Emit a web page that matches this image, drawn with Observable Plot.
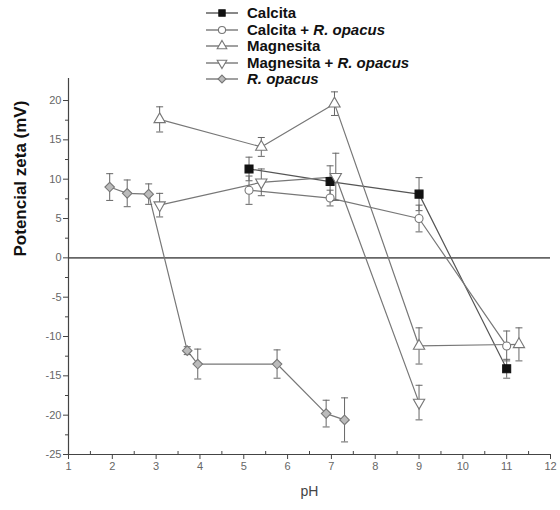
<!DOCTYPE html>
<html><head><meta charset="utf-8">
<script src="https://cdn.jsdelivr.net/npm/d3@7"></script>
<script src="https://cdn.jsdelivr.net/npm/@observablehq/plot@0.6"></script>
<style>
body{margin:0;background:#fff;}
#wrap{position:relative;width:560px;height:510px;}
#legend{position:absolute;left:205px;top:5px;font-family:"Liberation Sans",Arial,sans-serif;font-weight:bold;font-size:15px;color:#111;line-height:16.5px;}
#legend .row{display:flex;align-items:center;height:16.5px;}
#legend svg{margin-right:8px;}
</style></head><body><div id="wrap"><div id="legend"></div></div>
<script>
// ---- data ----
const seriesNames = ["Calcita", "Calcita + R. opacus", "Magnesita", "Magnesita + R. opacus", "R. opacus"];

const calcitaPH   = [5.12, 6.97, 9.0, 11.0];
const calcitaZeta = [11.3, 9.7, 8.1, -14.1];
const calcitaErr  = [1.5, 2.0, 2.1, 1.2];

const calcitaRoPH   = [5.12, 6.97, 9.0, 11.0];
const calcitaRoZeta = [8.6, 7.6, 5.0, -11.2];
const calcitaRoErr  = [1.8, 1.0, 1.7, 1.9];

const magnesitaPH   = [3.08, 5.4, 7.07, 9.0, 11.28];
const magnesitaZeta = [17.6, 14.1, 19.6, -11.2, -11.0];
const magnesitaErr  = [1.6, 1.2, 1.5, 2.3, 2.1];

const magnesitaRoPH   = [3.08, 5.4, 7.1, 9.0];
const magnesitaRoZeta = [6.7, 9.6, 10.3, -18.4];
const magnesitaRoErr  = [1.5, 1.7, 3.0, 2.2];

const rOpacusPH   = [1.94, 2.34, 2.83, 3.71, 3.95, 5.76, 6.88, 7.3];
const rOpacusZeta = [9.0, 8.2, 8.1, -11.8, -13.5, -13.5, -19.8, -20.6];
const rOpacusErr  = [1.7, 1.7, 1.3, 0.5, 1.9, 1.8, 1.7, 2.8];

const xTicks = d3.range(1, 13, 1);
const xMinor = d3.range(1.5, 12, 1);
const yTicks = d3.range(-25, 21, 5);
const yMinor = d3.range(-22.5, 21, 5);

// ---- symbols ----
const triDown = {draw(ctx, size) {
  const y = -Math.sqrt(size / (Math.sqrt(3) * 3));
  ctx.moveTo(0, -2 * y); ctx.lineTo(-Math.sqrt(3) * y, y); ctx.lineTo(Math.sqrt(3) * y, y); ctx.closePath();
}};
const cap = {draw(ctx) { ctx.moveTo(-3.5, 0); ctx.lineTo(3.5, 0); }};

const styles = [
  {symbol: d3.symbolSquare, fill: "#111", stroke: "#111", line: "#555", r: 4.5},
  {symbol: d3.symbolCircle, fill: "#fff", stroke: "#777", line: "#777", r: 4},
  {symbol: d3.symbolTriangle, fill: "#fff", stroke: "#777", line: "#777", r: 4.2},
  {symbol: triDown, fill: "#fff", stroke: "#777", line: "#777", r: 4.2},
  {symbol: d3.symbolDiamond2, fill: "#bbb", stroke: "#777", line: "#777", r: 4.3}
];

const raw = [
  [calcitaPH, calcitaZeta, calcitaErr],
  [calcitaRoPH, calcitaRoZeta, calcitaRoErr],
  [magnesitaPH, magnesitaZeta, magnesitaErr],
  [magnesitaRoPH, magnesitaRoZeta, magnesitaRoErr],
  [rOpacusPH, rOpacusZeta, rOpacusErr]
];
const series = raw.map(([p, z, e], i) => p.map((ph, j) => ({ph, zeta: z[j], err: e[j], name: seriesNames[i]})));

const marks = [
  Plot.ruleY([0], {stroke: "#666", strokeWidth: 1.6}),
];
series.forEach((data, i) => {
  const s = styles[i];
  marks.push(Plot.line(data, {x: "ph", y: "zeta", stroke: s.line, strokeWidth: 1.2}));
});
series.forEach((data, i) => {
  const s = styles[i];
  marks.push(
    Plot.ruleX(data, {x: "ph", y1: d => d.zeta - d.err, y2: d => d.zeta + d.err, stroke: "#666", strokeWidth: 1}),
    Plot.dot(data, {x: "ph", y: d => d.zeta - d.err, symbol: cap, r: 3, stroke: "#666", fill: "none", strokeWidth: 1}),
    Plot.dot(data, {x: "ph", y: d => d.zeta + d.err, symbol: cap, r: 3, stroke: "#666", fill: "none", strokeWidth: 1}),
    Plot.dot(data, {x: "ph", y: "zeta", symbol: s.symbol, r: s.r, fill: s.fill, stroke: s.stroke, strokeWidth: 1.1})
  );
});
const fmt = d => String(d);
marks.push(
  Plot.ruleX([1], {stroke: "#444", strokeWidth: 1.2}),
  Plot.ruleY([-25], {stroke: "#444", strokeWidth: 1.2}),
  Plot.axisY(yTicks, {tickSize: 5, tickPadding: 2, fontSize: 11, stroke: "#444", fill: "#666", tickFormat: fmt, label: null}),
  Plot.axisY(yMinor, {tickSize: 3, tickFormat: () => "", stroke: "#444", label: null}),
  Plot.axisX(xTicks, {tickSize: 5, tickPadding: 3, fontSize: 11, stroke: "#444", fill: "#666", tickFormat: fmt, label: null}),
  Plot.axisX(xMinor, {tickSize: -3, tickFormat: () => "", stroke: "#444", label: null}),
  Plot.text(["Potencial zeta (mV)"], {frameAnchor: "left", rotate: -90, dx: -48, dy: -10, fontSize: 17, fontWeight: "bold", fill: "#111", fontFamily: "Liberation Sans, Arial, sans-serif"}),
  Plot.text(["pH"], {frameAnchor: "bottom", dy: 41, fontSize: 14, fill: "#444"})
);

const chart = Plot.plot({
  width: 560, height: 510,
  marginLeft: 68, marginRight: 10, marginTop: 78, marginBottom: 56,
  style: {fontFamily: "Liberation Sans, Arial, sans-serif", background: "#fff"},
  x: {domain: [1, 12], axis: null},
  y: {domain: [-25, 22.8], axis: null},
  marks
});
document.getElementById("wrap").prepend(chart);

// ---- legend ----
const legend = document.getElementById("legend");
seriesNames.forEach((name, i) => {
  const s = styles[i];
  const row = document.createElement("div");
  row.className = "row";
  const path = d3.symbol(s.symbol, 40)();
  row.innerHTML = `<svg width="34" height="16"><line x1="1" x2="33" y1="8" y2="8" stroke="${s.line}" stroke-width="1.4"/><path d="${path}" transform="translate(17,8)" fill="${s.fill}" stroke="${s.stroke}" stroke-width="1.1"/></svg><span>${name.replace("R. opacus", "<i>R. opacus</i>")}</span>`;
  legend.appendChild(row);
});
</script>
</body></html>
